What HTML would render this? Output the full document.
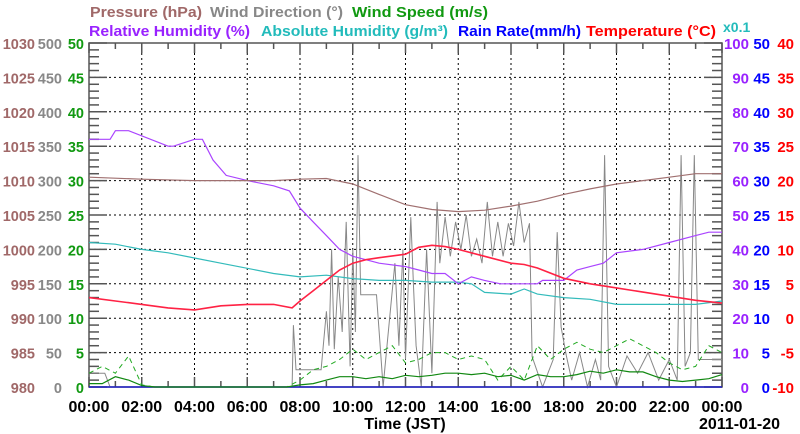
<!DOCTYPE html>
<html><head><meta charset="utf-8"><style>
body{margin:0;background:#fff}
svg{display:block;font-family:"Liberation Sans",sans-serif;font-weight:bold}
</style></head><body>
<svg id="c" width="800" height="434"></svg>
<script>
const hourTicks=[0,2,4,6,8,10,12,14,16,18,20,22,24];
const hourLabels=["00:00","02:00","04:00","06:00","08:00","10:00","12:00","14:00","16:00","18:00","20:00","22:00","00:00"];
const pressTicks=[980,985,990,995,1000,1005,1010,1015,1020,1025,1030];
const dirTicks=[0,50,100,150,200,250,300,350,400,450,500];
const spdTicks=[0,5,10,15,20,25,30,35,40,45,50];
const rhTicks=[0,10,20,30,40,50,60,70,80,90,100];
const rainTicks=[0,5,10,15,20,25,30,35,40,45,50];
const tempTicks=[-10,-5,0,5,10,15,20,25,30,35,40];

const pressT=[0,2,4,6,7,8,9,10,11,12,13,14,15,16,17,18,19,20,21,22,23,24];
const pressV=[1010.5,1010.2,1010,1010,1010,1010.2,1010.3,1009.5,1008,1006.5,1005.8,1005.5,1005.7,1006.3,1007,1008,1008.8,1009.5,1010,1010.5,1011,1011];

const rhT=[0,0.8,1.0,1.5,3.0,3.2,4.0,4.3,4.7,5.2,6,7,7.6,8,8.5,9,9.5,10,10.5,11,12,12.5,13,13.5,14,14.5,15,15.6,16,17,17.2,18,18.5,19,19.5,20,21,22,23,23.5,24];
const rhV=[72,72,74.5,74.5,70,70,72,72,66,61.5,60,58.5,57,52,48,44,40,38,37,36,35,34,33,33,30,32,31,30,30,30,31,31,34,35,36,39,40,42,44,45,45];

const ahT=[0,1,2,3,4,5,6,7,8,9,10,11,12,13,14,14.5,15,16,16.5,17,18,19,20,21,22,23,24];
const ahV=[42,41.5,40,39,37.5,36,34.5,33,32,32.5,31.5,31,31,30.5,30.5,30,27.5,27,28.5,27,26,25.5,24,24,24,24,25];

const tempT=[0,1,2,3,4,5,6,7,7.7,8,8.5,9,9.5,10,10.5,11,12,12.5,13,13.5,14,15,16,16.5,17,18,19,20,21,22,23,24];
const tempV=[3,2.5,2,1.5,1.2,1.8,2,2,1.5,2.5,4,5.5,7,8,8.5,8.8,9.3,10.3,10.6,10.4,10,9,8,7.8,7.3,5.8,5,4.4,3.8,3.2,2.6,2.2];

const dirT=[0,0.3,0.6,0.8,7.7,7.75,7.85,8.8,9.0,9.1,9.2,9.3,9.45,9.6,9.75,9.9,10.0,10.1,10.2,10.3,10.45,10.9,11.15,11.3,11.6,11.75,11.9,12.0,12.2,12.3,12.4,12.6,12.8,13.0,13.2,13.3,13.5,13.7,13.9,14.1,14.3,14.5,14.7,14.9,15.1,15.3,15.5,15.7,15.9,16.1,16.3,16.5,16.7,16.8,17.2,17.6,17.75,17.9,18.1,18.3,18.6,18.9,19.2,19.4,19.55,19.7,20,20.4,20.8,21.2,21.6,22.0,22.3,22.45,22.6,22.8,22.95,23.1,23.4,23.7,24];
const dirV=[20,20,20,0,0,90,25,25,110,60,200,55,160,80,240,30,200,80,337,134,134,134,0,60,180,60,200,40,247,150,60,0,200,20,269,180,247,190,240,200,250,190,215,180,269,190,240,190,238,205,269,210,238,44,0,40,225,87,45,10,50,0,40,10,337,30,0,45,20,50,10,40,10,337,30,50,337,40,40,40,40];

const spdT=[0,0.5,1,1.5,2,2.5,7.5,8,8.5,9,9.5,10,10.5,11,11.5,12,12.5,13,13.5,14,14.5,15,15.5,16,16.5,17,17.5,18,18.5,19,19.5,20,20.5,21,21.5,22,22.5,23,23.5,24];
const spdV=[0.5,0.5,1.5,1,0.2,0,0,0.3,0.5,1,1.5,1.5,1.2,1.5,1.2,1.7,1.5,1.7,2,2,1.8,2,1.5,1.7,1,1.8,1.5,1.5,1.8,2.3,2,2.5,2.2,2.2,1.5,1,0.8,1,1.2,1.8];
const gustV=[2,3,2,4.5,0.3,0,0,1,2.5,3,4,5.5,4,5,6,3.5,4,5,5,4,4.5,4,1,3,1,6,4,5.5,6.5,5.5,5,6,7,6,5,3.5,2.5,3,6,5];

const rainT=[0,24];
const rainV=[0,0];

const L=89,R=722,T=43,B=387;
const xs=h=>L+h/24*(R-L);
const yLin=(v,lo,hi)=>B-(v-lo)/(hi-lo)*(B-T);
const yP=v=>yLin(v,980,1030),yD=v=>yLin(v,0,500),yS=v=>yLin(v,0,50),yRH=v=>yLin(v,0,100),yR=v=>yLin(v,0,50),yTm=v=>yLin(v,-10,40);
const svg=document.getElementById('c');
const NS='http://www.w3.org/2000/svg';
function mk(tag,attrs,parent){const e=document.createElementNS(NS,tag);for(const k in attrs)e.setAttribute(k,attrs[k]);(parent||svg).appendChild(e);return e;}
function txt(s,x,y,fill,anchor,size){const e=mk('text',{x:x,y:y,fill:fill,'text-anchor':anchor||'start','font-size':size||15});e.textContent=s;return e;}

const grid=mk('g',{stroke:'#000','stroke-width':1,'stroke-dasharray':'2,3'});


for(let i=1;i<pressTicks.length-1;i++){const y=yP(pressTicks[i]);mk('line',{x1:L,x2:R,y1:y,y2:y},grid);}
for(let i=1;i<hourTicks.length-1;i++){const x=xs(hourTicks[i]);mk('line',{x1:x,x2:x,y1:T,y2:B},grid);}

const ax=mk('g',{stroke:'#555','stroke-width':1.5,fill:'none'});


mk('rect',{x:L,y:T,width:R-L,height:B-T},ax);
for(let i=0;i<=50;i++){const y=yS(i);const len=i%5==0?18:10;mk('line',{x1:L,x2:L+len,y1:y,y2:y},ax);mk('line',{x1:R,x2:R-len,y1:y,y2:y},ax);}
for(let h=0;h<=24;h++){const x=xs(h);const len=h%2==0?10:6;mk('line',{x1:x,x2:x,y1:B,y2:B-len},ax);mk('line',{x1:x,x2:x,y1:T,y2:T+len},ax);}

for(let i=0;i<pressTicks.length;i++){
 const y=yP(pressTicks[i])+6;
 let t=txt(String(pressTicks[i]),35,y,'#a06868','end',14.5);
 t=txt(String(dirTicks[i]),62,y,'#888','end',14.5);
 t=txt(String(spdTicks[i]),84,y,'#119911','end',14.5);
 t=txt(String(rhTicks[i]),749,y,'#9922ff','end');
 t=txt(String(rainTicks[i]),770,y,'#0000ff','end');
 t=txt(String(tempTicks[i]),794,y,'#ff0000','end');
}
for(let i=0;i<hourTicks.length;i++){const t=txt(hourLabels[i],xs(hourTicks[i]),412,'#000','middle',16);}

function line(T_,V_,yf,color,w,name,dash){
 const d=T_.map((t,i)=>(i?'L':'M')+xs(t).toFixed(1)+','+yf(V_[i]).toFixed(1)).join('');
 const p=mk('path',{d:d,fill:'none',stroke:color,'stroke-width':w});
 if(dash)p.setAttribute('stroke-dasharray',dash);
 
 
}
line(dirT,dirV,yD,'#888',1,'wind-direction-line');
line(rainT,rainV,yR,'#2222cc',1.5,'rain-rate-line');
line(spdT,gustV,yS,'#22aa22',1,'wind-gust-line','5,4');
line(spdT,spdV,yS,'#118811',1.2,'wind-speed-line');
line(ahT,ahV,yRH,'#33bbbb',1.2,'absolute-humidity-line');
line(rhT,rhV,yRH,'#aa44ff',1.2,'relative-humidity-line');
line(pressT,pressV,yP,'#a07070',1.2,'pressure-line');
line(tempT,tempV,yTm,'#ff2244',1.6,'temperature-line');

const lg=[['Pressure (hPa)',90,112,'#a06868',17],['Wind Direction (°)',210,133,'#888',17],['Wind Speed (m/s)',352,136,'#119911',17],
['Relative Humidity (%)',89,161,'#9922ff',36],['Absolute Humidity (g/m³)',261,187,'#22bbbb',36],['Rain Rate(mm/h)',458,123,'#0000ff',36],['Temperature (°C)',586,130,'#ff0000',36]];
lg.forEach(a=>{const t=txt(a[0],a[1],a[4],a[3]);t.setAttribute('textLength',a[2]);t.setAttribute('lengthAdjust','spacingAndGlyphs');});
let t=txt('x0.1',723,32,'#22bbbb','start',14);
t=txt('Time (JST)',405,429,'#000','middle',16);
t=txt('2011-01-20',780,429,'#000','end',16);
</script>
</body></html>
